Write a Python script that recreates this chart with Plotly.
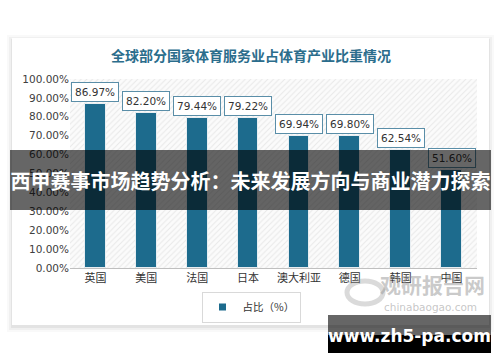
import plotly.graph_objects as go

countries = ["英国", "美国", "法国", "日本", "澳大利亚", "德国", "韩国", "中国"]
shares = [86.97, 82.20, 79.44, 79.22, 69.94, 69.80, 62.54, 51.60]
series_name = "占比（%）"
title_text = "全球部分国家体育服务业占体育产业比重情况"
banner_text = "西甲赛事市场趋势分析：未来发展方向与商业潜力探索"
watermark_text = "www.zh5-pa.com"
y_max = 100

W, H = 500, 362
# pixel -> paper helpers (plot area: x 70..477, y 79..268)
PL, PR, PT, PB = 70, 477, 79, 268
def px(x):
    return (x - PL) / (PR - PL)
def py(y):
    return (PB - y) / (PB - PT)

FONT = "Noto Sans CJK SC, Noto Sans, sans-serif"
BAR_COLOR = "#1d6b8d"

fig = go.Figure()
# hatched plot background
fig.add_trace(go.Bar(
    x=countries, y=[y_max] * len(countries), width=1,
    marker=dict(color="white", line=dict(width=0),
                pattern=dict(shape="/", fgcolor="#d4d4d4", bgcolor="#fbfbfb",
                             size=4, solidity=0.25)),
    showlegend=False, hoverinfo="skip"))
fig.add_trace(go.Bar(
    x=countries, y=shares, width=0.41, name=series_name, showlegend=False,
    marker=dict(color=BAR_COLOR, line=dict(width=1, color="#e8eef2"))))
# legend entry (small square swatch like the reference)
fig.add_trace(go.Scatter(
    x=[None], y=[None], mode="markers", name=series_name,
    marker=dict(symbol="square", size=7, color=BAR_COLOR)))

shapes = []
# card shadow + card
for i, a in enumerate([0.025, 0.035, 0.05]):
    d = 5 - i * 2
    shapes.append(dict(type="rect", xref="paper", yref="paper", layer="below",
                       x0=px(12 - d), x1=px(489 + d), y0=py(38 - d + 2), y1=py(325 + d + 2),
                       fillcolor=f"rgba(0,0,0,{a})", line=dict(width=0)))
shapes.append(dict(type="rect", xref="paper", yref="paper", layer="below",
                   x0=px(12), x1=px(489), y0=py(38), y1=py(325),
                   fillcolor="white", line=dict(width=0)))
# faint logo swirl
shapes.append(dict(type="circle", xref="paper", yref="paper", layer="above",
                   x0=px(347), x1=px(383), y0=py(281), y1=py(304),
                   fillcolor="rgba(0,0,0,0)", line=dict(width=5, color="rgba(150,150,150,0.35)")))
# watermark box
shapes.append(dict(type="rect", xref="paper", yref="paper", layer="above",
                   x0=px(328), x1=px(491), y0=py(315), y1=py(335),
                   fillcolor="rgba(0,0,0,0.6)", line=dict(width=0)))
shapes.append(dict(type="rect", xref="paper", yref="paper", layer="above",
                   x0=px(328), x1=px(491), y0=py(335), y1=py(353),
                   fillcolor="black", line=dict(width=0)))

def note(text, x, y, **kw):
    d = dict(text=text, xref="paper", yref="paper", x=px(x), y=py(y),
             xanchor="center", yanchor="middle", showarrow=False)
    d.update(kw)
    return d

annotations = []
annotations.append(note(f"<b>{title_text}</b>", 251, 55,
                        font=dict(size=14, color="#2b6d8c", family=FONT)))
for c, v in zip(countries, shares):
    annotations.append(dict(text=f"{v:.2f}%", x=c, y=v, xref="x", yref="y",
                            xanchor="center", yanchor="bottom", yshift=2, showarrow=False,
                            bgcolor="white", bordercolor="#5a8ea8", borderwidth=1,
                            borderpad=3, font=dict(size=10.5, color="#333333",
                                                   family="DejaVu Sans, sans-serif")))
# faint logo watermark
annotations.append(note("<b>观研报告网</b>", 432, 284,
                        font=dict(size=21, color="rgba(150,150,150,0.5)", family=FONT)))
annotations.append(note("chinabaogao.com", 430, 307,
                        font=dict(size=10.5, color="rgba(150,150,150,0.55)",
                                  family="DejaVu Sans, sans-serif")))
# banner overlay
annotations.append(note(f"<b>{banner_text}</b>", 250.5, 180,
                        width=481, height=60, bgcolor="rgba(0,0,0,0.6)",
                        borderpad=0, borderwidth=0, align="center", valign="middle",
                        font=dict(size=20, color="white", family=FONT)))
annotations.append(note(f"<b>{watermark_text}</b>", 409, 336,
                        font=dict(size=17, color="white", family="DejaVu Sans, sans-serif")))

fig.update_layout(
    width=W, height=H,
    margin=dict(l=PL, r=W - PR, t=PT, b=H - PB),
    paper_bgcolor="white", plot_bgcolor="rgba(0,0,0,0)",
    barmode="overlay", bargap=0,
    shapes=shapes, annotations=annotations,
    font=dict(family=FONT),
    legend=dict(orientation="h", xref="container", yref="container",
                x=251 / W, y=1 - 307 / H, xanchor="center", yanchor="middle",
                bordercolor="#d9d9d9", borderwidth=1, bgcolor="white",
                font=dict(size=10.5, color="#333333", family=FONT),
                itemwidth=30),
    xaxis=dict(showgrid=False, showline=True, linecolor="#bfbfbf", linewidth=1,
               ticks="", automargin=False,
               tickfont=dict(size=11, color="#333333", family=FONT)),
    yaxis=dict(range=[0, y_max], dtick=10, tickformat=".2f", ticksuffix="%",
               showgrid=False, zeroline=False, showline=False, ticks="", automargin=False,
               tickfont=dict(size=10.5, color="#404040", family="DejaVu Sans, sans-serif")),
)

fig.write_html("out.html", config={"displayModeBar": False},
               post_script="document.body.style.margin='0';document.body.style.padding='0';")
